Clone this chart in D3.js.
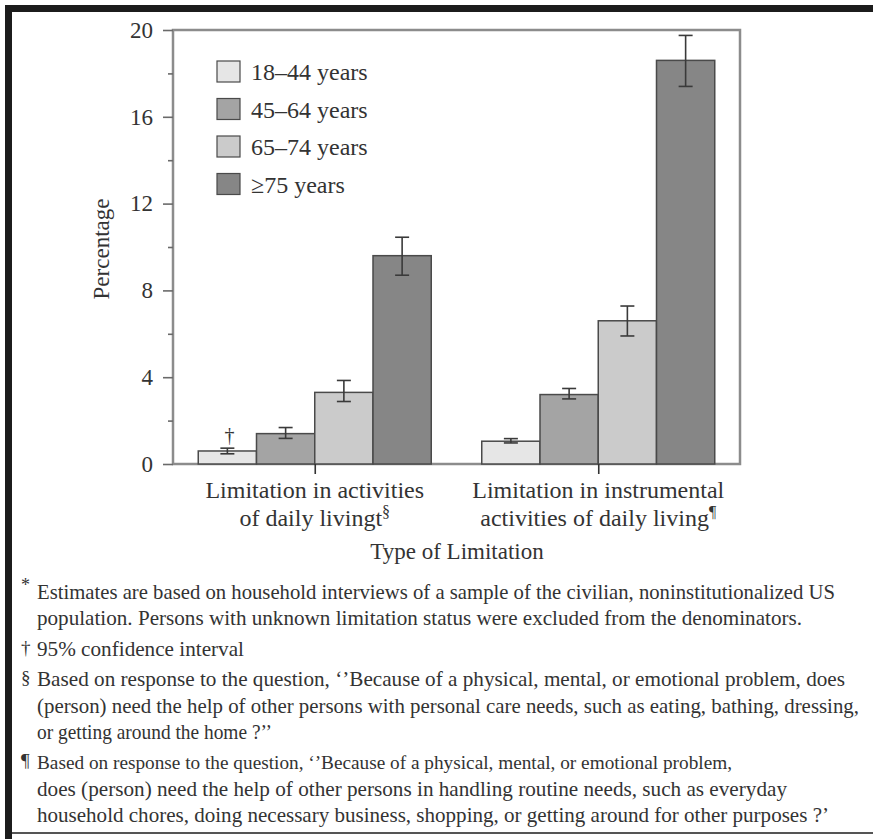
<!DOCTYPE html>
<html>
<head>
<meta charset="utf-8">
<script src="https://cdn.jsdelivr.net/npm/d3@7"></script>
<style>
  body { margin: 0; background: #fff; }
  svg { display: block; font-family: "Liberation Serif", "DejaVu Serif", serif; }
</style>
</head>
<body>
<div id="chart"></div>
<script>
const categories = ["ADL", "IADL"];
const categoryLines = [
  ["Limitation in activities", "of daily livingt", "§"],
  ["Limitation in instrumental", "activities of daily living", "¶"],
];
const ageGroups = ["18–44 years", "45–64 years", "65–74 years", "≥75 years"];
const adlValues = [0.6, 1.4, 3.3, 9.6];
const adlLow = [0.47, 1.18, 2.88, 8.7];
const adlHigh = [0.73, 1.68, 3.85, 10.45];
const iadlValues = [1.05, 3.2, 6.6, 18.6];
const iadlLow = [0.97, 3.0, 5.9, 17.4];
const iadlHigh = [1.17, 3.48, 7.28, 19.75];
const yTicks = [0, 4, 8, 12, 16, 20];
const yMinorTicks = [2, 6, 10, 14, 18];
const footnotes = [
  { mark: "*", lines: [
    "Estimates are based on household interviews of a sample of the civilian, noninstitutionalized US",
    "population. Persons with unknown limitation status were excluded from the denominators."] },
  { mark: "†", lines: ["95% confidence interval"] },
  { mark: "§", lines: [
    "Based on response to the question, ‘’Because of a physical, mental, or emotional problem, does",
    "(person) need the help of other persons with personal care needs, such as eating, bathing, dressing,",
    "or getting around the home ?’’"] },
  { mark: "¶", lines: [
    "Based on response to the question, ‘’Because of a physical, mental, or emotional problem,",
    "does (person) need the help of other persons in handling routine needs, such as everyday",
    "household chores, doing necessary business, shopping, or getting around for other purposes ?’"] },
];
// measured widths of the footnote lines in the reference
const footnoteWidths = [[798, 765], [207], [808, 822, 235], [695, 750, 792]];
const footnoteSizes = [[21, 21], [21], [21, 21, 21], [19.5, 21, 21]];

const seriesColors = ["#e6e6e6", "#a4a4a4", "#cbcbcb", "#868686"];

const width = 873, height = 840;
const plot = { left: 173, right: 740, top: 30, bottom: 464 };

const svg = d3.select("#chart").append("svg")
  .attr("width", width).attr("height", height);

svg.append("rect").attr("width", width).attr("height", height).attr("fill", "#fff");

// scan frame
svg.append("rect").attr("x", 5).attr("y", 5).attr("width", width - 5).attr("height", 7).attr("fill", "#1c1c1c");
svg.append("rect").attr("x", 5).attr("y", 5).attr("width", 7).attr("height", 834).attr("fill", "#1c1c1c");
svg.append("rect").attr("x", 12).attr("y", 832).attr("width", width - 12).attr("height", 2).attr("fill", "#555");

const y = d3.scaleLinear().domain([0, 20]).range([plot.bottom, plot.top]);
const x0 = d3.scalePoint().domain(categories).range([plot.left, plot.right]).padding(0.5);
const x1 = d3.scaleBand().domain(ageGroups).range([-116.5, 116.5]);

const data = categories.map((c, ci) => {
  const vals = ci === 0 ? adlValues : iadlValues;
  const lo = ci === 0 ? adlLow : iadlLow;
  const hi = ci === 0 ? adlHigh : iadlHigh;
  return ageGroups.map((g, gi) => ({ cat: c, group: g, gi, value: vals[gi], lo: lo[gi], hi: hi[gi] }));
}).flat();

// frame
svg.append("rect")
  .attr("x", plot.left).attr("y", plot.top)
  .attr("width", plot.right - plot.left).attr("height", plot.bottom - plot.top)
  .attr("fill", "none").attr("stroke", "#8c8c8c").attr("stroke-width", 2.5);

// bars
svg.append("g").selectAll("rect").data(data).join("rect")
  .attr("x", (d) => x0(d.cat) + x1(d.group))
  .attr("y", (d) => y(d.value))
  .attr("width", x1.bandwidth())
  .attr("height", (d) => y(0) - y(d.value))
  .attr("fill", (d) => seriesColors[d.gi])
  .attr("stroke", "#4a4a4a").attr("stroke-width", 1.5);

// error bars
const err = svg.append("g").attr("stroke", "#3a3a3a").attr("stroke-width", 1.6);
data.forEach((d) => {
  const cx = x0(d.cat) + x1(d.group) + x1.bandwidth() / 2;
  err.append("line").attr("x1", cx).attr("x2", cx).attr("y1", y(d.lo)).attr("y2", y(d.hi));
  [d.lo, d.hi].forEach((v) =>
    err.append("line").attr("x1", cx - 7).attr("x2", cx + 7).attr("y1", y(v)).attr("y2", y(v)));
});

// dagger marker above first bar
const firstBar = data[0];
svg.append("text")
  .attr("x", x0(firstBar.cat) + x1(firstBar.group) + x1.bandwidth() / 2 + 2)
  .attr("y", y(firstBar.hi) - 6)
  .attr("text-anchor", "middle")
  .attr("font-size", 20).attr("fill", "#333")
  .text("†");

// y axis
svg.append("g")
  .attr("transform", `translate(${plot.left},0)`)
  .call(d3.axisLeft(y).tickValues(yTicks).tickSize(10).tickPadding(10).tickFormat(d3.format("d")))
  .call((g) => g.select(".domain").remove())
  .call((g) => g.selectAll(".tick line").attr("stroke", "#6a6a6a").attr("stroke-width", 1.6))
  .call((g) => g.selectAll(".tick text")
    .attr("font-family", "Liberation Serif, serif").attr("font-size", 23).attr("fill", "#333"));

svg.append("g")
  .attr("transform", `translate(${plot.left},0)`)
  .call(d3.axisLeft(y).tickValues(yMinorTicks).tickSize(5).tickFormat(""))
  .call((g) => g.select(".domain").remove())
  .call((g) => g.selectAll(".tick line").attr("stroke", "#6a6a6a").attr("stroke-width", 1.6));

// x axis
svg.append("g")
  .attr("transform", `translate(0,${plot.bottom})`)
  .call(d3.axisBottom(x0).tickSize(10).tickFormat(""))
  .call((g) => g.select(".domain").remove())
  .call((g) => g.selectAll(".tick line").attr("stroke", "#333").attr("stroke-width", 1.6));

// x category labels
categories.forEach((c, ci) => {
  const [l1, l2, sup] = categoryLines[ci];
  const cx = x0(c);
  svg.append("text")
    .attr("x", cx).attr("y", 498).attr("text-anchor", "middle")
    .attr("font-size", 24).attr("fill", "#333").text(l1);
  const t = svg.append("text")
    .attr("x", cx).attr("y", 526).attr("text-anchor", "middle")
    .attr("font-size", 24).attr("fill", "#333");
  t.append("tspan").text(l2);
  t.append("tspan").attr("dy", -9).attr("font-size", 16).text(sup);
});

svg.append("text")
  .attr("x", 457).attr("y", 559).attr("text-anchor", "middle")
  .attr("font-size", 23).attr("fill", "#333")
  .text("Type of Limitation");

svg.append("text")
  .attr("transform", "translate(109,249) rotate(-90)")
  .attr("text-anchor", "middle")
  .attr("font-size", 23).attr("fill", "#333")
  .text("Percentage");

// legend
const legend = svg.append("g").attr("transform", "translate(217,61)");
const legendItem = legend.selectAll("g").data(ageGroups).join("g")
  .attr("transform", (d, i) => `translate(0,${i * 37.5})`);
legendItem.append("rect")
  .attr("width", 23).attr("height", 21)
  .attr("fill", (d, i) => seriesColors[i])
  .attr("stroke", "#4a4a4a").attr("stroke-width", 1.2);
legendItem.append("text")
  .attr("x", 34).attr("y", 19)
  .attr("font-size", 24).attr("fill", "#333")
  .text((d) => d);

// footnotes
const lineYs = [[599, 625], [656], [686, 713, 739], [769, 796, 822]];
const notes = svg.append("g").attr("fill", "#333");
footnotes.forEach((f, fi) => {
  notes.append("text")
    .attr("x", 21).attr("y", lineYs[fi][0] - (f.mark === "*" ? 8 : 2))
    .attr("font-size", f.mark === "*" ? 18 : 19)
    .text(f.mark);
  f.lines.forEach((line, li) => {
    notes.append("text")
      .attr("x", 37).attr("y", lineYs[fi][li])
      .attr("font-size", footnoteSizes[fi][li])
      .attr("textLength", footnoteWidths[fi][li])
      .attr("lengthAdjust", "spacingAndGlyphs")
      .text(line);
  });
});
</script>
</body>
</html>
